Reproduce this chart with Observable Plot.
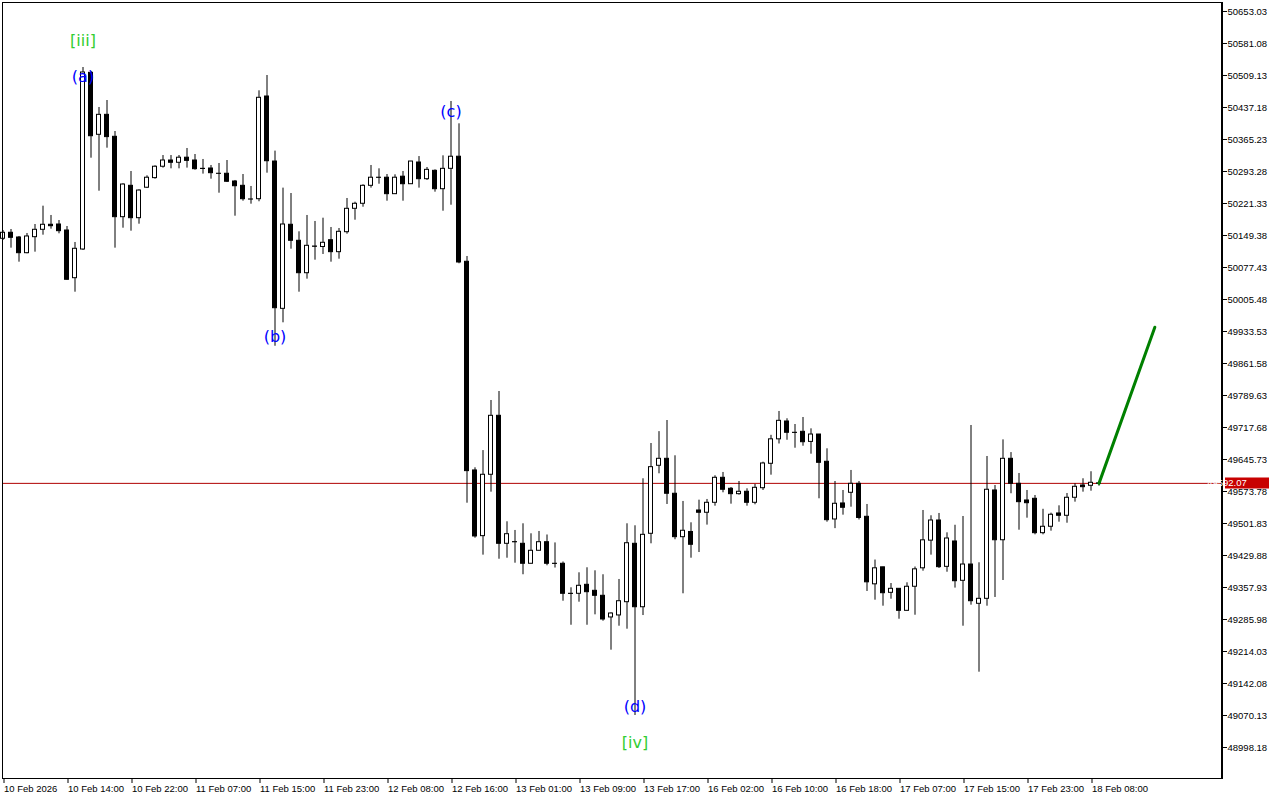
<!DOCTYPE html>
<html><head><meta charset="utf-8">
<script src="https://cdn.jsdelivr.net/npm/d3@7"></script>
<script src="https://cdn.jsdelivr.net/npm/@observablehq/plot@0.6"></script>
<style>body{margin:0;background:#fff} svg{display:block}</style>
</head><body><div id="chart"></div>
<script>
// Hourly candles, index 0 = first visible bar
const opens = [50142.0,50155.5,50144.9,50109.6,50145.6,50162.2,50173.5,50174.1,50160.6,50053.4,
50117.9,50515.2,50375.8,50420.7,50371.3,50190.6,50261.1,50188.3,50256.8,50278.4,
50304.0,50318.0,50312.9,50324.3,50318.0,50299.3,50300.0,50288.2,50288.2,50270.8,
50261.1,50230.4,50231.0,50461.9,50315.7,49984.5,50173.5,50137.5,50064.6,50124.6,
50123.5,50138.8,50111.9,50156.8,50209.4,50220.7,50261.1,50279.3,50279.3,50242.3,
50281.6,50264.7,50313.5,50276.0,50294.8,50253.5,50299.3,50326.5,50090.3,49621.1,
49473.4,49611.4,49744.0,49456.2,49460.0,49456.2,49411.3,49440.5,49459.8,49411.3,
49411.3,49343.8,49343.8,49364.0,49350.5,49339.3,49290.6,49295.1,49324.9,49456.2,
49313.6,49478.7,49631.6,49647.3,49568.7,49471.1,49482.8,49531.1,49526.0,49548.4,
49604.6,49579.9,49567.8,49573.2,49548.4,49581.2,49636.1,49691.1,49731.2,49705.8,
49708.0,49685.3,49701.9,49640.6,49510.9,49546.9,49570.9,49591.1,49516.9,49365.1,
49403.3,49346.0,49355.0,49305.5,49359.6,49401.1,49463.3,49508.6,49404.4,49461.4,
49373.0,49409.6,49321.3,49332.5,49576.1,49464.2,49647.3,49591.1,49553.6,49557.4,
49480.1,49494.5,49524.4,49519.2,49559.7,49587.3,49586.6,49591.0];
const highs = [50160.6,50162.9,50147.2,50153.9,50174.1,50215.3,50194.4,50183.1,50169.6,50133.7,
50527.1,50518.1,50437.2,50452.9,50383.2,50265.6,50293.3,50252.1,50283.6,50306.1,
50329.2,50329.2,50329.2,50345.0,50331.5,50320.3,50306.8,50311.3,50318.0,50273.1,
50286.5,50259.6,50474.7,50509.1,50339.1,50255.9,50243.8,50157.7,50194.4,50180.9,
50188.3,50167.4,50165.1,50232.6,50224.3,50263.4,50306.8,50299.3,50286.5,50285.8,
50293.3,50316.0,50326.9,50302.3,50297.0,50328.5,50450.7,50400.5,50102.2,49627.1,
49665.8,49778.4,49798.6,49505.7,49486.2,49501.2,49478.7,49483.9,49476.0,49458.2,
49415.3,49357.3,49391.0,49402.3,49395.5,49386.6,49300.9,49376.0,49501.2,49496.7,
49602.4,49681.7,49708.4,49733.4,49654.1,49551.4,49503.4,49554.3,49555.9,49609.1,
49616.6,49582.8,49596.3,49579.9,49589.6,49639.7,49700.1,49753.7,49737.3,49724.4,
49740.2,49714.7,49702.1,49669.8,49596.3,49576.1,49621.1,49596.3,49544.6,49419.7,
49403.5,49366.9,49355.2,49368.5,49404.0,49531.1,49519.2,49524.4,49480.9,49497.9,
49517.6,49722.2,49413.5,49652.5,49587.3,49689.9,49661.3,49614.3,49576.1,49564.8,
49533.8,49525.1,49541.6,49569.3,49591.1,49602.4,49618.2,49594.7];
const lows = [50138.2,50120.9,50089.4,50108.3,50111.9,50150.1,50163.6,50153.2,50049.1,50021.9,
50115.7,50323.2,50249.0,50345.7,50120.9,50165.8,50159.1,50174.8,50255.0,50276.0,
50300.9,50299.3,50299.3,50300.9,50296.2,50287.4,50276.0,50244.5,50268.5,50192.8,
50226.5,50219.8,50225.2,50289.5,49900.4,49953.1,50118.6,50021.9,50051.2,50093.9,
50106.7,50089.4,50096.1,50152.3,50183.8,50213.0,50255.9,50264.7,50226.5,50242.0,
50226.5,50264.5,50255.9,50273.1,50246.8,50204.0,50217.5,50085.8,49547.5,49468.8,
49430.7,49572.3,49421.5,49423.8,49412.6,49386.6,49411.0,49440.2,49406.8,49401.7,
49327.1,49273.1,49324.9,49273.1,49296.5,49282.1,49217.0,49270.9,49264.2,49070.2,
49294.9,49456.2,49613.6,49544.6,49465.3,49343.8,49423.8,49436.6,49498.2,49540.8,
49570.9,49545.3,49565.6,49540.8,49543.9,49576.1,49610.5,49680.6,49689.0,49671.1,
49675.6,49657.7,49557.4,49504.8,49490.3,49520.6,49538.5,49509.8,49349.0,49329.4,
49315.9,49331.6,49286.6,49305.3,49295.6,49394.6,49430.7,49400.7,49392.3,49356.6,
49270.9,49318.2,49167.5,49315.9,49335.5,49373.7,49568.7,49486.8,49513.8,49476.4,
49476.4,49484.6,49504.8,49502.5,49549.8,49572.3,49574.5,49585.7];
const closes = [50155.5,50144.2,50109.6,50147.2,50162.2,50173.5,50170.3,50159.1,50049.8,50119.5,
50515.9,50372.6,50420.7,50370.6,50190.6,50264.0,50188.3,50250.5,50279.3,50304.0,
50318.0,50312.9,50324.3,50317.2,50298.5,50298.9,50289.5,50288.0,50270.2,50260.2,
50231.0,50230.2,50459.0,50316.4,49985.9,50174.1,50137.5,50064.6,50126.2,50124.0,
50133.0,50111.9,50157.7,50209.4,50220.7,50261.1,50279.3,50279.0,50242.3,50279.3,
50264.7,50315.7,50276.0,50297.0,50253.5,50299.3,50326.5,50088.7,49619.6,49472.7,
49611.4,49744.0,49456.2,49477.8,49459.6,49411.3,49440.5,49459.8,49411.3,49411.0,
49343.8,49343.5,49361.8,49347.4,49339.3,49286.0,49299.5,49327.1,49457.5,49313.6,
49476.4,49628.5,49647.3,49568.7,49471.1,49485.5,49454.0,49526.0,49548.4,49604.6,
49577.7,49567.8,49573.2,49548.4,49582.1,49636.8,49691.1,49732.7,49705.8,49705.5,
49684.6,49701.9,49638.3,49509.3,49546.2,49537.2,49591.1,49514.3,49369.6,49401.1,
49345.1,49355.0,49305.5,49359.6,49398.8,49464.0,49508.6,49403.7,49468.1,49372.1,
49409.6,49327.1,49332.5,49577.7,49464.2,49647.3,49591.1,49549.8,49547.5,49480.1,
49494.5,49521.5,49519.2,49559.7,49584.4,49583.5,49593.4,49592.07];

const tickIndex = [0,8,16,24,32,40,48,56,64,72,80,88,96,104,112,120,128,136];
const tickLabels = ["10 Feb 2026","10 Feb 14:00","10 Feb 22:00","11 Feb 07:00","11 Feb 15:00","11 Feb 23:00",
"12 Feb 08:00","12 Feb 16:00","13 Feb 01:00","13 Feb 09:00","13 Feb 17:00","16 Feb 02:00","16 Feb 10:00",
"16 Feb 18:00","17 Feb 07:00","17 Feb 15:00","17 Feb 23:00","18 Feb 08:00"];
const priceTicks = [50653.03,50581.08,50509.13,50437.18,50365.23,50293.28,50221.33,50149.38,50077.43,50005.48,
49933.53,49861.58,49789.63,49717.68,49645.73,49573.78,49501.83,49429.88,49357.93,49285.98,49214.03,49142.08,
49070.13,48998.18];
const currentPrice = 49592.07;
const projection = [{i:137, price:49592.07},{i:143.98, price:49943.2}];
const degreeLabels = [{i:10, price:50587.8, text:"[iii]"},{i:79, price:49009.5, text:"[iv]"}];
const minorLabels = [{i:10, price:50505.8, text:"(a)"},{i:34, price:49922.3, text:"(b)"},
  {i:56, price:50428.2, text:"(c)"},{i:79, price:49090.4, text:"(d)"}];

const candles = opens.map((o,i)=>({i, open:o, high:highs[i], low:lows[i], close:closes[i]}));
const up = candles.filter(d=>d.close>=d.open);
const down = candles.filter(d=>d.close<d.open);
const xDomain = [-0.0625, 152.4375];
const yDomain = [48928.5, 50673.26];
const tickMap = new Map(tickIndex.map((t,k)=>[t,tickLabels[k]]));

const chart = Plot.plot({
  width:1280, height:800, marginLeft:2, marginRight:58, marginTop:2, marginBottom:22,
  style:{fontFamily:"'Liberation Sans', Arial, sans-serif", fontSize:"9.5px", background:"#fff", color:"#000"},
  x:{domain:xDomain, axis:null},
  y:{domain:yDomain, axis:null},
  marks:[
    Plot.ruleY([currentPrice], {stroke:"#b00000", strokeWidth:1}),
    Plot.ruleX(candles, {x:"i", y1:"low", y2:"high", stroke:"#000"}),
    Plot.rect(up, {x1:d=>d.i-0.25, x2:d=>d.i+0.25, y1:"open", y2:"close", fill:"#fff", stroke:"#000"}),
    Plot.rect(down, {x1:d=>d.i-0.25, x2:d=>d.i+0.25, y1:"open", y2:"close", fill:"#000", stroke:"#000"}),
    Plot.line(projection, {x:"i", y:"price", stroke:"#008000", strokeWidth:3}),
    Plot.text(degreeLabels, {x:"i", y:"price", text:"text", fill:"#32cd32", fontSize:16, fontFamily:"DejaVu Sans"}),
    Plot.text(minorLabels, {x:"i", y:"price", text:"text", fill:"#0000ff", fontSize:16, fontFamily:"DejaVu Sans"}),
    Plot.frame({stroke:"#000"}),
    Plot.axisY({ticks:priceTicks, anchor:"right", tickFormat:d=>d.toFixed(2), tickSize:4, tickPadding:1, label:null}),
    Plot.axisX({ticks:tickIndex, anchor:"bottom", tickFormat:d=>tickMap.get(d), tickSize:5, tickPadding:2, textAnchor:"start", dx:1, label:null})
  ]
});
document.getElementById("chart").appendChild(chart);

const svg = d3.select(chart);
const ys = chart.scale("y");
const py = ys.apply(currentPrice);
svg.append("line").attr("x1",1222).attr("x2",1222).attr("y1",2).attr("y2",778)
  .attr("stroke","#000").attr("stroke-width",2);
const tag = svg.append("g");
tag.append("rect").attr("x",1225).attr("y",Math.round(py)-5.5).attr("width",44).attr("height",11).attr("fill","#c80000");
tag.append("text").attr("x",1227).attr("y",py).attr("dy","0.35em").attr("fill","#fff")
  .attr("font-size","9.5px").text(currentPrice.toFixed(2));
</script>
</body></html>
